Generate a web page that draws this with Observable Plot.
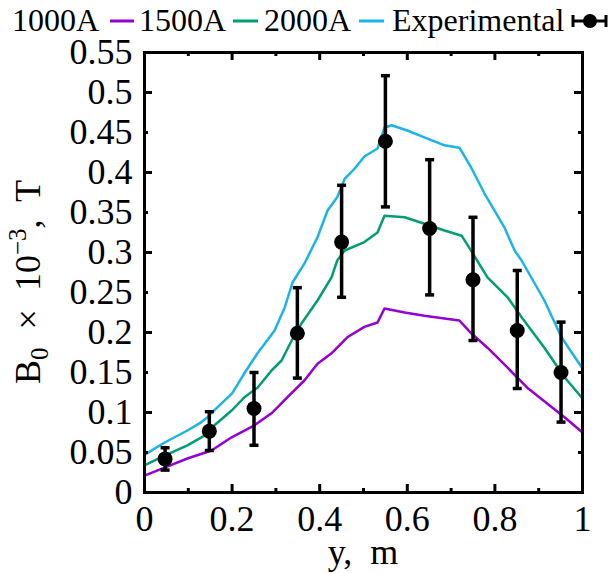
<!DOCTYPE html>
<html><head><meta charset="utf-8">
<script src="https://cdn.jsdelivr.net/npm/d3@7"></script>
<script src="https://cdn.jsdelivr.net/npm/@observablehq/plot@0.6"></script>
<style>
body{margin:0;background:#fff}
#wrap{position:relative;width:610px;height:573px}
#legend{position:absolute;left:0;top:0}
svg, svg text, svg tspan{font-family:"Liberation Serif","DejaVu Serif",serif !important}
</style>
</head><body>
<div id="wrap">
<svg id="legend" width="610" height="44" font-size="32">
  <text x="12" y="31">1000A</text>
  <line x1="110" x2="134" y1="21" y2="21" stroke="#9400d3" stroke-width="3"/>
  <text x="139" y="31">1500A</text>
  <line x1="233" x2="258" y1="21" y2="21" stroke="#009e73" stroke-width="3"/>
  <text x="264" y="31">2000A</text>
  <line x1="359" x2="384" y1="21" y2="21" stroke="#1cb3e8" stroke-width="3"/>
  <text x="392" y="31">Experimental</text>
  <line x1="573" x2="606" y1="21" y2="21" stroke="#000" stroke-width="3"/>
  <line x1="573" x2="573" y1="15" y2="27" stroke="#000" stroke-width="3"/>
  <line x1="606" x2="606" y1="15" y2="27" stroke="#000" stroke-width="3"/>
  <circle cx="590" cy="21" r="7" fill="#000"/>
</svg>
</div>
<script>
// Simulated curves: position y (m) and B0 (x10^-3 T)
const y1000 = [0, 0.046, 0.098, 0.153, 0.199, 0.251, 0.29, 0.326, 0.365, 0.395, 0.427, 0.463, 0.502, 0.532, 0.548, 0.594, 0.639, 0.685, 0.719, 0.746, 0.783, 0.829, 0.874, 0.92, 0.959, 1.0];
const b1000 = [0.021, 0.031, 0.0425, 0.0525, 0.069, 0.084, 0.099, 0.119, 0.14, 0.161, 0.174, 0.194, 0.207, 0.2125, 0.23, 0.225, 0.221, 0.2175, 0.215, 0.199, 0.181, 0.156, 0.131, 0.111, 0.094, 0.075];

const y1500 = [0, 0.046, 0.098, 0.14, 0.153, 0.199, 0.228, 0.258, 0.29, 0.313, 0.336, 0.358, 0.395, 0.427, 0.44, 0.457, 0.502, 0.532, 0.548, 0.594, 0.639, 0.685, 0.724, 0.746, 0.783, 0.829, 0.861, 0.913, 0.959, 1.0];
const b1500 = [0.034, 0.046, 0.059, 0.072, 0.081, 0.1025, 0.119, 0.131, 0.1525, 0.165, 0.19, 0.211, 0.24, 0.269, 0.29, 0.3025, 0.313, 0.325, 0.346, 0.344, 0.336, 0.3275, 0.321, 0.302, 0.269, 0.244, 0.219, 0.181, 0.144, 0.1175];

const y2000 = [0, 0.046, 0.098, 0.13, 0.144, 0.152, 0.2, 0.228, 0.258, 0.28, 0.297, 0.32, 0.338, 0.365, 0.395, 0.418, 0.44, 0.457, 0.48, 0.502, 0.532, 0.548, 0.564, 0.6, 0.639, 0.685, 0.719, 0.746, 0.776, 0.822, 0.845, 0.861, 0.913, 0.952, 1.0];
const b2000 = [0.047, 0.0625, 0.0775, 0.088, 0.094, 0.099, 0.124, 0.149, 0.174, 0.19, 0.2025, 0.231, 0.2625, 0.286, 0.319, 0.3525, 0.369, 0.392, 0.405, 0.42, 0.43, 0.456, 0.459, 0.4525, 0.444, 0.434, 0.431, 0.406, 0.374, 0.331, 0.3025, 0.29, 0.24, 0.194, 0.155];

// Experimental points with error bars
const expY  = [0.047, 0.148, 0.25, 0.349, 0.45, 0.55, 0.651, 0.75, 0.851, 0.951];
const expB  = [0.042, 0.0767, 0.105, 0.199, 0.313, 0.439, 0.330, 0.266, 0.2025, 0.150];
const expLo = [0.028, 0.0525, 0.059, 0.143, 0.244, 0.357, 0.247, 0.19, 0.13, 0.088];
const expHi = [0.056, 0.101, 0.150, 0.256, 0.384, 0.521, 0.416, 0.344, 0.2775, 0.213];

// Ticks
const xTicks = [0, 0.2, 0.4, 0.6, 0.8, 1];
const xTickLabels = ["0", "0.2", "0.4", "0.6", "0.8", "1"];
const xMajor = [0.2, 0.4, 0.6, 0.8];
const xMinor = [0.1, 0.3, 0.5, 0.7, 0.9];
const yTicks = [0, 0.05, 0.1, 0.15, 0.2, 0.25, 0.3, 0.35, 0.4, 0.45, 0.5, 0.55];
const yTickLabels = ["0", "0.05", "0.1", "0.15", "0.2", "0.25", "0.3", "0.35", "0.4", "0.45", "0.5", "0.55"];
const yMajor = [0.1, 0.2, 0.3, 0.4, 0.5];
const yMinor = [0.05, 0.15, 0.25, 0.35, 0.45];

const colors = {"1000A": "#9400d3", "1500A": "#009e73", "2000A": "#1cb3e8"};

const curves = [
  ...y1000.map((v, i) => ({s: "1000A", y: v, b: b1000[i]})),
  ...y1500.map((v, i) => ({s: "1500A", y: v, b: b1500[i]})),
  ...y2000.map((v, i) => ({s: "2000A", y: v, b: b2000[i]}))
];
const exp = expY.map((v, i) => ({y: v, b: expB[i], lo: expLo[i], hi: expHi[i]}));

const W = 610, H = 573, mL = 144, mR = 28, mT = 52, mB = 81;
const fw = W - mL - mR, fh = H - mT - mB;
const capSymbol = {draw(ctx, size) { const r = Math.sqrt(size / Math.PI); ctx.moveTo(-r, 0); ctx.lineTo(r, 0); }};

const chart = Plot.plot({
  width: W, height: H,
  marginLeft: mL, marginRight: mR, marginTop: mT, marginBottom: mB,
  style: {fontSize: "36px", background: "white", color: "black", overflow: "visible"},
  x: {domain: [0, 1]},
  y: {domain: [0, 0.55]},
  marks: [
    Plot.line(curves, {x: "y", y: "b", z: "s", stroke: d => colors[d.s], strokeWidth: 2.5}),
    Plot.ruleX(exp, {x: "y", y1: "lo", y2: "hi", stroke: "black", strokeWidth: 3.5}),
    Plot.dot(exp, {x: "y", y: "lo", symbol: capSymbol, r: 4.5, stroke: "black", strokeWidth: 3.5, fill: "none"}),
    Plot.dot(exp, {x: "y", y: "hi", symbol: capSymbol, r: 4.5, stroke: "black", strokeWidth: 3.5, fill: "none"}),
    Plot.dot(exp, {x: "y", y: "b", r: 7.5, fill: "black", stroke: "none"}),
    // inward ticks on all four sides
    Plot.tickX(xMajor, {x: d => d, insetTop: fh - 8, strokeWidth: 3}),
    Plot.tickX(xMajor, {x: d => d, insetBottom: fh - 8, strokeWidth: 3}),
    Plot.tickX(xMinor, {x: d => d, insetTop: fh - 4, strokeWidth: 3}),
    Plot.tickX(xMinor, {x: d => d, insetBottom: fh - 4, strokeWidth: 3}),
    Plot.tickY(yMajor, {y: d => d, insetRight: fw - 8, strokeWidth: 3}),
    Plot.tickY(yMajor, {y: d => d, insetLeft: fw - 8, strokeWidth: 3}),
    Plot.tickY(yMinor, {y: d => d, insetRight: fw - 4, strokeWidth: 3}),
    Plot.tickY(yMinor, {y: d => d, insetLeft: fw - 4, strokeWidth: 3}),
    Plot.frame({stroke: "black", strokeWidth: 3}),
    Plot.axisX({ticks: xTicks, tickSize: 0, tickPadding: 13, fontSize: 36, label: null,
      tickFormat: d => xTickLabels[xTicks.indexOf(d)]}),
    Plot.axisY({ticks: yTicks, tickSize: 0, tickPadding: 12, fontSize: 36, label: null,
      tickFormat: d => yTickLabels[yTicks.indexOf(d)]})
  ]
});

const svg = d3.select(chart);
svg.append("text")
  .attr("x", mL + fw / 2).attr("y", 564)
  .attr("text-anchor", "middle").attr("font-size", 36).attr("fill", "black")
  .text("y,\u00a0 m");
const yl = svg.append("text")
  .attr("transform", `translate(40,${mT + fh / 2 + 10}) rotate(-90)`)
  .attr("text-anchor", "middle").attr("font-size", 36).attr("fill", "black");
yl.append("tspan").text("B");
yl.append("tspan").attr("dy", 8).attr("font-size", 25).text("0");
yl.append("tspan").attr("dy", -8).text("\u00a0\u00a0×\u00a0\u00a010");
yl.append("tspan").attr("dy", -14).attr("font-size", 25).text("−3");
yl.append("tspan").attr("dy", 14).text(",\u00a0 T");

document.getElementById("wrap").prepend(chart);
</script>
</body></html>
